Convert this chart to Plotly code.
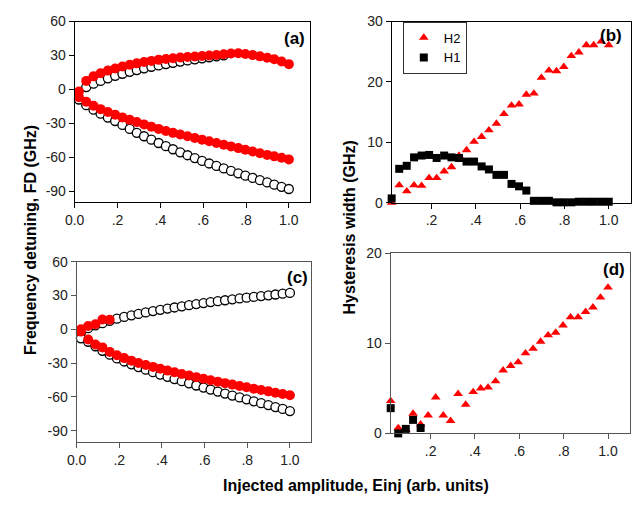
import plotly.graph_objects as go

# Injected amplitude grid (arb. units)
X = [0.02, 0.054, 0.088, 0.121, 0.155, 0.189, 0.223, 0.257, 0.29, 0.324,
     0.358, 0.392, 0.426, 0.459, 0.493, 0.527, 0.561, 0.595, 0.628, 0.662,
     0.696, 0.73, 0.764, 0.797, 0.831, 0.865, 0.899, 0.932, 0.966, 1.0]

# Panel (a): frequency detuning (GHz)
a_red_up = [-2, 7.5, 11.5, 14.3, 16.6, 18.5, 20.2, 21.7, 23, 24.2,
            25.2, 26.1, 26.9, 27.6, 28.2, 28.7, 29.1, 29.5, 29.9, 30.4,
            31, 31.7, 32, 31.3, 30.3, 29.2, 28, 26.6, 24.7, 22.3]
a_red_lo = [-7, -11, -14.5, -17.5, -20, -22.5, -24.8, -27, -29, -31,
            -33, -35, -36.8, -38.5, -40, -41.5, -43, -44.5, -46, -47.5,
            -49, -50.5, -52, -53.5, -55, -56.5, -58, -59.3, -60.6, -62]
a_open_up_x = X[1:21]
a_open_up = [2, 5, 7.5, 9.8, 12, 13.8, 15.5, 17.1, 18.6, 20,
             21.2, 22.4, 23.5, 24.6, 25.6, 26.6, 27.5, 28.4, 29.2, 30.0]
a_open_lo = [-9, -14, -18, -21.5, -25, -28, -31.5, -35, -38.5, -41.5,
             -44.5, -47.5, -50.3, -53, -55.7, -58.3, -60.8, -63.3, -65.6, -67.8,
             -70, -72.2, -74.3, -76.4, -78.4, -80.4, -82.4, -84.4, -86.3, -88.2]

# Panel (c): frequency detuning (GHz)
c_red_up_x = X[0:5]
c_red_up = [0, 3, 4.5, 8.8, 8.5]
c_red_lo = [-2, -9, -13.5, -16, -20, -23, -25.5, -27.8, -29.8, -31.6,
            -33.3, -35, -36.6, -38.1, -39.6, -41, -42.4, -43.8, -45.1, -46.4,
            -47.7, -49, -50.2, -51.4, -52.6, -53.8, -55, -56.2, -57.3, -58.5]
c_open_up = [-3, 1, 3.5, 5.5, 7.5, 9.5, 11, 12.4, 13.7, 15,
             16.2, 17.3, 18.4, 19.4, 20.4, 21.4, 22.4, 23.3, 24.2, 25,
             25.8, 26.6, 27.4, 28.1, 28.8, 29.5, 30.2, 30.9, 31.6, 32.3]
c_open_lo = [-8, -11, -15, -19, -22.5, -25.8, -28.5, -31, -33.5, -35.8,
             -38, -40.1, -42.1, -44.1, -46, -47.9, -49.8, -51.6, -53.4, -55.2,
             -57, -58.7, -60.4, -62.1, -63.8, -65.5, -67.2, -68.9, -70.6, -72.5]

# Panel (b): hysteresis widths (GHz)
b_h2 = [0, 2.9, 1.9, 2.9, 2.8, 4.1, 4.1, 5.2, 5.9, 7.8,
        8.7, 10.1, 10.9, 12.0, 13.1, 14.7, 16.1, 16.3, 17.9, 18.1,
        20.7, 21.9, 21.8, 22.5, 24.3, 24.9, 26.1, 26.1, 26.7, 26.1]
b_h1 = [0.7, 5.6, 6.1, 7.5, 7.8, 7.9, 7.4, 7.8, 7.5, 7.4,
        6.8, 6.8, 6.0, 5.5, 4.6, 4.6, 3.1, 2.7, 2.0, 0.3,
        0.3, 0.3, 0.05, 0.05, 0.05, 0.15, 0.15, 0.15, 0.15, 0.15]

# Panel (d): hysteresis widths (GHz)
d_h2 = [3.6, 0.6, 0.4, 2.2, 1.0, 2.0, 4.0, 2.0, 1.4, 4.4,
        3.2, 4.6, 5.0, 5.1, 5.8, 7.0, 7.5, 7.9, 8.9, 9.4,
        10.2, 10.9, 11.2, 12.0, 12.9, 12.9, 13.5, 14.0, 15.1, 16.2]
d_h1_x = X[0:5]
d_h1 = [2.8, 0.0, 0.5, 1.5, 0.6]

# Tick labels
det_ticks = [-90, -60, -30, 0, 30, 60]
det_text = ["-90", "-60", "-30", "0", "30", "60"]
amp_ticks_full = [0, 0.2, 0.4, 0.6, 0.8, 1.0]
amp_text_full = ["0.0", ".2", ".4", ".6", ".8", "1.0"]
amp_ticks = [0.2, 0.4, 0.6, 0.8, 1.0]
amp_text = [".2", ".4", ".6", ".8", "1.0"]
b_ticks = [0, 10, 20, 30]
d_ticks = [0, 10, 20]

W, H = 643, 505
RED = "#ff0000"
FONT = "Liberation Sans, Arial, sans-serif"


def px_x(a, b):
    return [a / W, b / W]


def px_y(top, bottom):
    return [1 - bottom / H, 1 - top / H]


def axis(domain, rng, tickvals, ticktext, anchor, color="black"):
    return dict(domain=domain, range=rng, tickvals=tickvals, ticktext=ticktext,
                anchor=anchor, ticks="outside", ticklen=5, tickwidth=1,
                tickcolor=color, showline=True, linecolor=color, linewidth=1,
                mirror=True, showgrid=False, zeroline=False,
                tickfont=dict(family=FONT, size=14, color="#222"))


def open_circles(x, y, xa, ya):
    return go.Scatter(x=x, y=y, mode="markers", xaxis=xa, yaxis=ya,
                      showlegend=False, cliponaxis=False,
                      marker=dict(symbol="circle", size=9, color="white",
                                  line=dict(color="black", width=1.3)))


def red_dots(x, y, xa, ya):
    return go.Scatter(x=x, y=y, mode="markers", xaxis=xa, yaxis=ya,
                      showlegend=False, cliponaxis=False,
                      marker=dict(symbol="circle", size=10, color=RED,
                                  line=dict(width=0)))


def triangles(x, y, xa, ya, legend):
    return go.Scatter(x=x, y=y, mode="markers", xaxis=xa, yaxis=ya,
                      name="H2", showlegend=legend, cliponaxis=False,
                      marker=dict(symbol="triangle-up", size=8.5, color=RED,
                                  line=dict(width=0)))


def squares(x, y, xa, ya, legend):
    return go.Scatter(x=x, y=y, mode="markers", xaxis=xa, yaxis=ya,
                      name="H1", showlegend=legend, cliponaxis=False,
                      marker=dict(symbol="square", size=8, color="black",
                                  line=dict(width=0)))


fig = go.Figure()

# (a)
fig.add_trace(open_circles(a_open_up_x, a_open_up, "x", "y"))
fig.add_trace(open_circles(X, a_open_lo, "x", "y"))
fig.add_trace(red_dots(X, a_red_up, "x", "y"))
fig.add_trace(red_dots(X, a_red_lo, "x", "y"))

# (b)
fig.add_trace(triangles(X, b_h2, "x2", "y2", True))
fig.add_trace(squares(X, b_h1, "x2", "y2", True))

# (c)
fig.add_trace(open_circles(X, c_open_up, "x3", "y3"))
fig.add_trace(open_circles(X, c_open_lo, "x3", "y3"))
fig.add_trace(red_dots(c_red_up_x, c_red_up, "x3", "y3"))
fig.add_trace(red_dots(X, c_red_lo, "x3", "y3"))

# (d)
fig.add_trace(triangles(X, d_h2, "x4", "y4", False))
fig.add_trace(squares(d_h1_x, d_h1, "x4", "y4", False))

GREY = "#555"
fig.update_layout(
    width=W, height=H,
    margin=dict(l=0, r=0, t=0, b=0),
    paper_bgcolor="white", plot_bgcolor="white",
    font=dict(family=FONT, color="black"),
    xaxis=axis(px_x(65.7, 305), [0, 1.1], amp_ticks_full, amp_text_full, "y"),
    yaxis=axis(px_y(14, 200.7), [-100, 60], det_ticks, det_text, "x"),
    xaxis2=axis(px_x(387.7, 630.7), [0.02, 1.1], amp_ticks, amp_text, "y2"),
    yaxis2=axis(px_y(14, 201), [0, 30], b_ticks, [str(v) for v in b_ticks], "x2"),
    xaxis3=axis(px_x(67.7, 306), [0, 1.1], amp_ticks_full, amp_text_full, "y3", GREY),
    yaxis3=axis(px_y(262, 448.3), [-100, 60], det_ticks, det_text, "x3", GREY),
    xaxis4=axis(px_x(386.7, 630), [0.02, 1.1], amp_ticks, amp_text, "y4", GREY),
    yaxis4=axis(px_y(253.3, 439.3), [0, 20], d_ticks, [str(v) for v in d_ticks], "x4", GREY),
    legend=dict(x=399 / W, y=1 - 14 / H, xanchor="left", yanchor="top",
                bgcolor="white", bordercolor="#333", borderwidth=1,
                font=dict(family=FONT, size=13, color="black"),
                tracegroupgap=0),
)

labels = [
    ("(a)", 289, 31), ("(b)", 611, 28.5), ("(c)", 292, 278.5), ("(d)", 614, 270),
]
for txt, x, y in labels:
    fig.add_annotation(text=f"<b>{txt}</b>", x=x / W, y=1 - y / H,
                       xref="paper", yref="paper", showarrow=False,
                       xanchor="center", yanchor="middle",
                       font=dict(family=FONT, size=17, color="black"))

titles = [
    ("Frequency detuning, FD (GHz)", 21, 240, -90),
    ("Hysteresis width (GHz)", 345, 227, -90),
    ("Injected amplitude, Einj (arb. units)", 351, 493, 0),
]
for txt, x, y, ang in titles:
    fig.add_annotation(text=f"<b>{txt}</b>", x=x / W, y=1 - y / H,
                       xref="paper", yref="paper", showarrow=False,
                       xanchor="center", yanchor="middle", textangle=ang,
                       font=dict(family=FONT, size=16, color="black"))

fig.write_html("out.html")
